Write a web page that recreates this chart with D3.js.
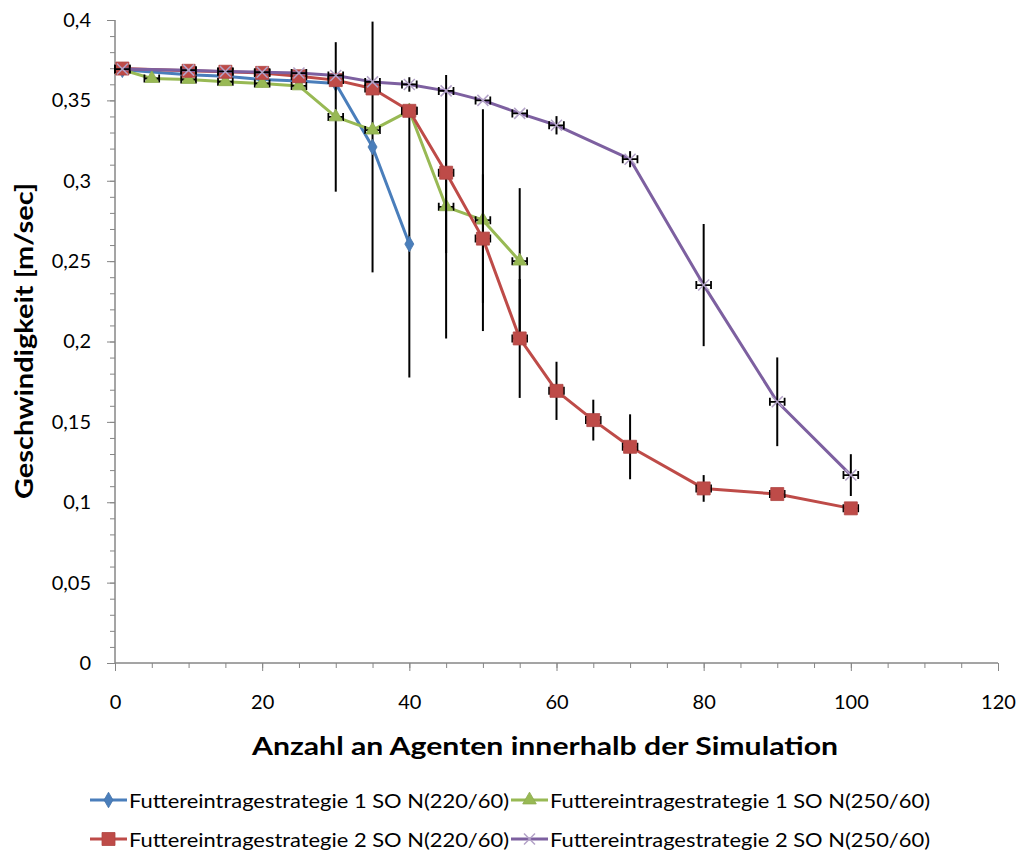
<!DOCTYPE html>
<html><head><meta charset="utf-8">
<script src="https://cdn.jsdelivr.net/npm/d3@7"></script>
<style>body{margin:0;background:#fff}svg{display:block}</style>
</head><body>
<svg id="c" width="1022" height="856" font-family="Lato, 'Open Sans', sans-serif"></svg>
<script>
const xTicks = [0,20,40,60,80,100,120];
const yTicks = [0,0.05,0.1,0.15,0.2,0.25,0.3,0.35,0.4];

const xBlue = [1,10,15,20,25,30,35,40];
const yBlue = [0.369,0.366,0.365,0.363,0.362,0.3605,0.321,0.2606];
const eBlue = [0,0,0,0,0,0,0.078,0.083];

const xGreen = [1,5,10,15,20,25,30,35,40,45,50,55];
const yGreen = [0.369,0.3636,0.363,0.3616,0.3605,0.359,0.3397,0.3315,0.3435,0.2838,0.2755,0.250];
const eGreen = [0,0,0,0,0,0,0.0465,0,0,0.082,0.069,0.0454];

const xRed = [1,10,15,20,25,30,35,40,45,50,55,60,65,70,80,90,100];
const yRed = [0.3698,0.3684,0.3678,0.3671,0.365,0.3626,0.3574,0.3435,0.305,0.264,0.2019,0.1693,0.1511,0.1345,0.1086,0.1051,0.0962];
const eRed = [0,0,0,0,0,0,0,0,0.05,0.04,0.037,0.0181,0.0127,0.0202,0.0083,0.002,0.002];

const xPurple = [1,10,15,20,25,30,35,40,45,50,55,60,70,80,90,100];
const yPurple = [0.3695,0.3688,0.368,0.3675,0.367,0.3655,0.3615,0.3599,0.3559,0.350,0.3419,0.3345,0.3134,0.2351,0.1625,0.1169];
const ePurple = [0,0,0,0,0,0,0,0.0045,0,0,0,0.0057,0.005,0.038,0.0276,0.013];

const labels = ["Futtereintragestrategie 1 SO N(220/60)","Futtereintragestrategie 1 SO N(250/60)",
                "Futtereintragestrategie 2 SO N(220/60)","Futtereintragestrategie 2 SO N(250/60)"];

const series = [
  {xs:xBlue, ys:yBlue, es:eBlue, xe:0, color:"#4a7ebb", marker:"diamond", label:labels[0]},
  {xs:xGreen, ys:yGreen, es:eGreen, xe:1, color:"#98b954", marker:"triangle", label:labels[1]},
  {xs:xRed, ys:yRed, es:eRed, xe:1, color:"#be4b48", marker:"square", label:labels[2]},
  {xs:xPurple, ys:yPurple, es:ePurple, xe:1, color:"#7d60a0", marker:"x", label:labels[3]}
];

const svg = d3.select("#c");
const FONT = "Lato, 'Open Sans', sans-serif";
const x = d3.scaleLinear().domain([0,120]).range([115,998]);
const y = d3.scaleLinear().domain([0,0.4]).range([663,20]);
const fmt = d => String(+d.toFixed(2)).replace(".", ",");
const axisColor = "#868686";

const gx = svg.append("g").attr("transform","translate(0,663)");
gx.call(d3.axisBottom(x).tickValues(d3.range(0,121,5)).tickSize(5).tickFormat(""));
gx.append("g").call(d3.axisBottom(x).tickValues(xTicks).tickSize(8).tickPadding(24).tickFormat(d=>d));
gx.selectAll("g").attr("font-family",FONT);
gx.selectAll("path,line").attr("stroke",axisColor);
gx.selectAll("text").attr("fill","#000").attr("font-size",20).attr("font-family",FONT);
gx.selectAll("path.domain").attr("d","M115,0H998");

const gy = svg.append("g").attr("transform","translate(115,0)");
gy.call(d3.axisLeft(y).tickValues(d3.range(0,41).map(i=>i/100)).tickSize(5).tickFormat(""));
gy.append("g").call(d3.axisLeft(y).tickValues(yTicks).tickSize(8).tickPadding(16).tickFormat(fmt));
gy.selectAll("path,line").attr("stroke",axisColor);
gy.selectAll("text").attr("fill","#000").attr("font-size",20).attr("font-family",FONT);
gy.selectAll("path.domain").attr("d","M0,20V663");

function markerPath(type){
  if(type==="diamond") return d3.symbol(d3.symbolDiamond, 70)();
  if(type==="triangle") return d3.symbol(d3.symbolTriangle, 80)();
  if(type==="square") return "M-6.5,-6.5H6.5V6.5H-6.5Z";
  return "M-5.5,-5.5L5.5,5.5M-5.5,5.5L5.5,-5.5";
}
function drawMarker(g, type, color, px, py){
  const p = g.append("path").attr("d", markerPath(type)).attr("transform",`translate(${px},${py})`);
  if(type==="x") p.attr("fill","none").attr("stroke","#b3a2c7").attr("stroke-width",1.5);
  else p.attr("fill",color).attr("stroke",d3.color(color).darker(0.25)).attr("stroke-width",0.8);
}

const line = d3.line().x(d=>x(d[0])).y(d=>y(d[1]));
series.forEach(s=>{
  const g = svg.append("g");
  const pts = s.xs.map((v,i)=>[v,s.ys[i],s.es[i]]);
  g.append("path").datum(pts).attr("d",line).attr("fill","none").attr("stroke",s.color).attr("stroke-width",3).attr("stroke-linejoin","round");
  pts.forEach(p=>{
    if(p[2]>0){
      g.append("line").attr("x1",x(p[0])).attr("x2",x(p[0])).attr("y1",y(p[1]+p[2])).attr("y2",y(p[1]-p[2]))
       .attr("stroke","#000").attr("stroke-width",2);
    }
    if(s.xe>0){
      const xa = x(p[0]-s.xe), xb = x(p[0]+s.xe), yy = y(p[1]);
      g.append("path").attr("d",`M${xa},${yy}H${xb}M${xa},${yy-4}V${yy+4}M${xb},${yy-4}V${yy+4}`)
       .attr("stroke","#000").attr("stroke-width",1.8).attr("fill","none");
    }
  });
  pts.forEach(p=>drawMarker(g, s.marker, s.color, x(p[0]), y(p[1])));
});

svg.append("text").attr("x",545).attr("y",755).attr("text-anchor","middle").attr("font-size",25).attr("font-weight","bold")
  .attr("font-family",FONT).attr("textLength",586).attr("lengthAdjust","spacingAndGlyphs").text("Anzahl an Agenten innerhalb der Simulation");
svg.append("text").attr("transform","translate(33,341) rotate(-90)").attr("text-anchor","middle").attr("font-size",25).attr("font-weight","bold")
  .attr("font-family",FONT).attr("textLength",316).attr("lengthAdjust","spacingAndGlyphs").text("Geschwindigkeit [m/sec]");

const legPos = [[90,800],[511,800],[90,839],[511,839]];
series.forEach((s,i)=>{
  const [lx,ly] = legPos[i];
  const g = svg.append("g");
  g.append("line").attr("x1",lx).attr("x2",lx+37).attr("y1",ly).attr("y2",ly).attr("stroke",s.color).attr("stroke-width",3);
  drawMarker(g, s.marker, s.color, lx+18.5, ly);
  g.append("text").attr("x",lx+39).attr("y",ly+8).attr("font-size",20).attr("font-family",FONT)
   .attr("textLength",380).attr("lengthAdjust","spacingAndGlyphs").text(s.label);
});
</script>
</body></html>
